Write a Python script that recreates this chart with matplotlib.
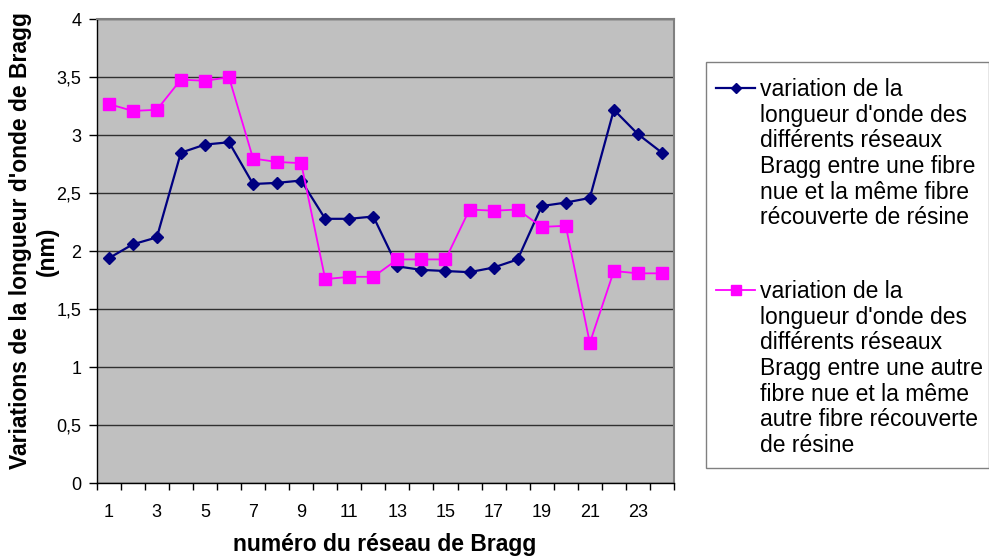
import numpy as np
import matplotlib.pyplot as plt
from matplotlib.lines import Line2D
from matplotlib.patches import Rectangle
from matplotlib.ticker import FixedLocator, FuncFormatter

plt.rcParams['font.family'] = ['Liberation Sans', 'DejaVu Sans']

reseaux = np.arange(1, 25)
fibre_1 = [1.94, 2.06, 2.12, 2.85, 2.92, 2.94, 2.58, 2.59, 2.61, 2.28, 2.28, 2.30,
           1.87, 1.84, 1.83, 1.82, 1.86, 1.93, 2.39, 2.42, 2.46, 3.22, 3.01, 2.85]
fibre_2 = [3.27, 3.21, 3.22, 3.48, 3.47, 3.50, 2.80, 2.77, 2.76, 1.76, 1.78, 1.78,
           1.93, 1.93, 1.93, 2.36, 2.35, 2.36, 2.21, 2.22, 1.21, 1.83, 1.81, 1.81]

label_1 = ("variation de la\nlongueur d'onde des\ndifférents réseaux\n"
           "Bragg entre une fibre\nnue et la même fibre\nrécouverte de résine")
label_2 = ("variation de la\nlongueur d'onde des\ndifférents réseaux\n"
           "Bragg entre une autre\nfibre nue et la même\nautre fibre récouverte\nde résine")

W, H = 989, 558
fig = plt.figure(figsize=(W / 100, H / 100), dpi=100)
ax = fig.add_axes([96.7 / W, 1 - 483.3 / H, (674 - 96.7) / W, (483.3 - 19.3) / H])
ax.set_facecolor('#c0c0c0')

styles = [
    dict(color='#000080', lw=1.6, marker='D', ms=6.3),
    dict(color='#ff00ff', lw=1.3, marker='s', ms=8.5),
]
ax.plot(reseaux, fibre_1, zorder=3, **styles[0])
ax.plot(reseaux, fibre_2, zorder=3, **styles[1])

ax.set_xlim(0.5, 24.5)
ax.set_ylim(0, 4)
ax.set_yticks(np.arange(0, 4.01, 0.5))
ax.yaxis.set_major_formatter(FuncFormatter(lambda v, p: f'{v:g}'.replace('.', ',')))
ax.grid(axis='y', color='#303030', lw=1)
ax.set_axisbelow(True)

# category ticks sit between points, labels on every other point
ax.set_xticks(np.arange(1, 25, 2))
ax.set_xticklabels([str(i) for i in range(1, 25, 2)])
ax.tick_params(axis='x', which='major', length=0, pad=15)
ax.xaxis.set_minor_locator(FixedLocator(np.arange(0.5, 24.6, 1)))
ax.tick_params(axis='x', which='minor', length=5, width=1, color='black')
ax.tick_params(axis='y', length=6, width=1, pad=5)
ax.tick_params(labelsize=13)

for s in ('top', 'right'):
    ax.spines[s].set_color('#808080')
    ax.spines[s].set_linewidth(1.5)
for s in ('left', 'bottom'):
    ax.spines[s].set_color('black')
    ax.spines[s].set_linewidth(1)

fig.text(21 / W, 1 - 240 / H, "Variations de la longueur d'onde de Bragg",
         rotation=90, ha='center', va='center', fontsize=16.5, fontweight='bold')
fig.text(47 / W, 1 - 251 / H, '(nm)',
         rotation=90, ha='center', va='center', fontsize=16.5, fontweight='bold')
fig.text(385 / W, 1 - 545 / H, 'numéro du réseau de Bragg',
         ha='center', va='center', fontsize=16.5, fontweight='bold')

# legend box with the handle level with the first line of each entry
fig.patches.append(Rectangle((706 / W, 1 - 468 / H), (W - 706) / W, (468 - 62) / H,
                             transform=fig.transFigure, facecolor='white',
                             edgecolor='#808080', lw=1))
for style, label, y0 in zip(styles, [label_1, label_2], [88, 290]):
    fig.lines.append(Line2D([716 / W, 755 / W], [1 - y0 / H] * 2,
                            transform=fig.transFigure, color=style['color'],
                            lw=style['lw']))
    fig.lines.append(Line2D([735.5 / W], [1 - y0 / H], transform=fig.transFigure,
                            ls='none', color=style['color'],
                            marker=style['marker'], ms=style['ms'] * 0.8))
    fig.text(760 / W, 1 - (y0 - 10) / H, label, ha='left', va='top',
             fontsize=16.5, linespacing=1.15)

fig.savefig('out.png', dpi=100)
